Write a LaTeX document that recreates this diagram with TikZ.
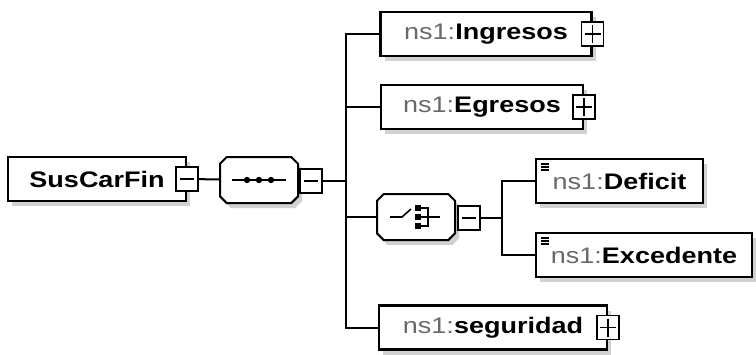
\documentclass[tikz,border=0pt]{standalone}
\usepackage{fontspec}
\setmainfont{Liberation Sans}[FakeStretch = 1.2]
\usetikzlibrary{shapes.misc, shadows}

\definecolor{nsgray}{RGB}{105,105,105}
\newcommand{\nsname}[1]{{\color{nsgray}ns1:}\textbf{#1}}

\tikzset{
	boxshadow/.style = {drop shadow = {shadow xshift = 4pt, shadow yshift = -5pt, opacity = 1, fill = black!18}},
	elem/.style = {draw, line width = 2.2pt, fill = white, minimum height = 44pt, font = \fontsize{22.5}{26}\selectfont, boxshadow},
	compositor/.style = {chamfered rectangle, chamfered rectangle xsep = 10pt, draw, line width = 2pt, fill = white, minimum width = 78pt, minimum height = 46pt, boxshadow},
	pmbox/.style = {draw, line width = 1.6pt, fill = white, minimum width = 22pt, minimum height = 24pt, inner sep = 0pt},
	minusbox/.style = {pmbox, path picture = {\draw [line width = 1.5pt] ([xshift = 4pt] path picture bounding box.west) -- ([xshift = -4pt] path picture bounding box.east);}},
	plusbox/.style = {pmbox, path picture = {\draw [line width = 1.5pt] ([xshift = 3pt] path picture bounding box.west) -- ([xshift = -3pt] path picture bounding box.east) ([yshift = -3pt] path picture bounding box.north) -- ([yshift = 3pt] path picture bounding box.south);}},
	simple/.style = {path picture = {\foreach \d in {5, 8, 11} \draw [line width = 1.3pt] ([xshift = 5pt, yshift = -\d pt] path picture bounding box.north west) -- ++(8pt, 0);}},
	conn/.style = {line width = 2pt}
}

\begin{document}
\begin{tikzpicture}[x = 1pt, y = -1pt]

	\useasboundingbox (0, 0) rectangle (756, 354);

	% Root element and sequence

	\node [elem, minimum width = 178pt] (root) at (97, 179) {\textbf{SusCarFin}};
	\node [minusbox] (rootminus) at (root.east) {};
	\node [compositor] (seq) at (259, 180) {};
	\node [minusbox] (seqminus) at (311, 181) {};
	\coordinate (bus) at (346, 181);

	% Children of the sequence

	\node [elem, minimum width = 211pt] (ingresos) at (486, 34) {\nsname{Ingresos}};
	\node [plusbox] (ingresosplus) at (ingresos.east) {};
	\node [elem, minimum width = 202pt] (egresos) at (482, 107) {\nsname{Egresos}};
	\node [plusbox] (egresosplus) at (egresos.east) {};
	\node [compositor] (choice) at (416, 217) {};
	\node [minusbox] (choiceminus) at (469, 218) {};
	\coordinate (subbus) at (502, 218);
	\node [elem, minimum width = 228pt] (seguridad) at (493, 327.5) {\nsname{seguridad}};
	\node [plusbox] (seguridadplus) at (seguridad.east) {};

	% Children of the choice

	\node [elem, simple, minimum width = 167pt] (deficit) at (619.5, 181) {\nsname{Deficit}};
	\node [elem, simple, minimum width = 216pt] (excedente) at (644, 255) {\nsname{Excedente}};

	% Compositor icons

	\draw [line width = 1.6pt] ([xshift = -27pt] seq.center) -- ([xshift = 27pt] seq.center);
	\foreach \dx in {-12, 0, 12}
		\fill ([xshift = \dx pt] seq.center) circle (3.2pt);

	\begin{scope}[shift = {(choice.center)}]
		\draw [line width = 1.6pt] (-26, 0) -- (-14, 0) -- (-5, -8);
		\foreach \dy in {-9, 0, 9}
			\fill (2, \dy) +(-2.8, -2.8) rectangle +(2.8, 2.8);
		\draw [line width = 1.6pt] (2, -9) -- (12, -9) -- (12, 9) -- (2, 9) (2, 0) -- (24, 0);
	\end{scope}

	% Connectors

	\draw [conn] (rootminus) -- (seq);
	\draw [conn] (seqminus) -- (bus);
	\draw [conn] (bus) |- (ingresos);
	\draw [conn] (bus) |- (egresos);
	\draw [conn] (bus) |- (choice);
	\draw [conn] (bus) |- (seguridad);
	\draw [conn] (choiceminus) -- (subbus);
	\draw [conn] (subbus) |- (deficit);
	\draw [conn] (subbus) |- (excedente);

\end{tikzpicture}
\end{document}
